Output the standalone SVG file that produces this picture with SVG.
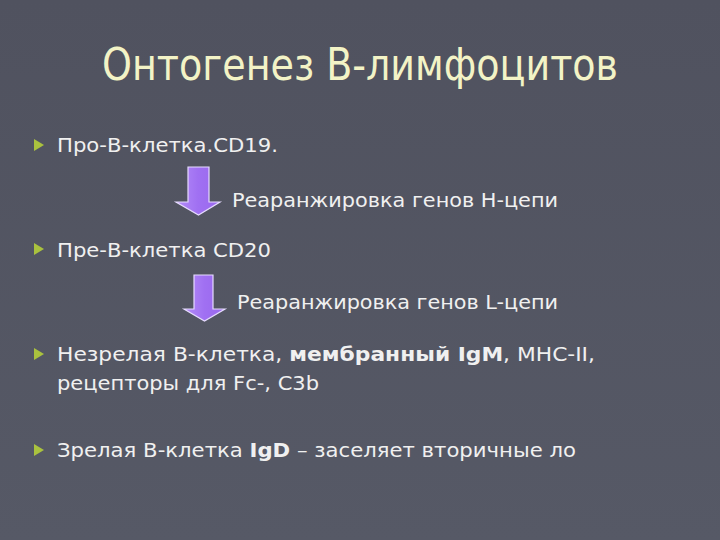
<svg xmlns="http://www.w3.org/2000/svg" width="720" height="540" viewBox="0 0 720 540">
<defs>
<linearGradient id="bg" x1="0" y1="0" x2="0" y2="1">
<stop offset="0" stop-color="#50525f"/>
<stop offset="1" stop-color="#565966"/>
</linearGradient>
<linearGradient id="ar" x1="0" y1="0" x2="1" y2="0">
<stop offset="0" stop-color="#b48cf8"/>
<stop offset="0.5" stop-color="#a070f2"/>
<stop offset="1" stop-color="#9a68ee"/>
</linearGradient>
<path id="bul" d="M0,-6 L10,0 L0,6 Z"/>
</defs>
<style>
.t{font-family:"DejaVu Sans","Liberation Sans",sans-serif;font-size:20px;fill:#f0f0f0}
.ttl{font-family:"DejaVu Sans Condensed","DejaVu Sans","Liberation Sans",sans-serif;font-size:44px;fill:#f3f3c6}
.b{font-weight:bold}
.bul{fill:#aac23e}
.arrow{fill:url(#ar);stroke:#e6dbff;stroke-width:1.2}
</style>
<rect width="720" height="540" fill="url(#bg)"/>
<g id="title"><text class="ttl" x="102" y="80" textLength="516" lengthAdjust="spacingAndGlyphs">Онтогенез В-лимфоцитов</text></g>
<g id="item1"><use href="#bul" class="bul" x="34" y="145"/><text class="t" x="57" y="152" textLength="221" lengthAdjust="spacingAndGlyphs">Про-В-клетка.CD19.</text></g>
<g id="item2"><use href="#bul" class="bul" x="34" y="249"/><text class="t" x="57" y="257" textLength="214" lengthAdjust="spacingAndGlyphs">Пре-В-клетка CD20</text></g>
<g id="item3"><use href="#bul" class="bul" x="34" y="354"/><text class="t" x="57" y="361" textLength="538" lengthAdjust="spacingAndGlyphs">Незрелая В-клетка, <tspan class="b">мембранный IgM</tspan>, МНС-II,</text>
<text class="t" x="57" y="390" textLength="262" lengthAdjust="spacingAndGlyphs">рецепторы для Fc-, C3b</text></g>
<g id="item4"><use href="#bul" class="bul" x="34" y="450"/><text class="t" x="57" y="457" textLength="519" lengthAdjust="spacingAndGlyphs">Зрелая В-клетка <tspan class="b">IgD</tspan> – заселяет вторичные ло</text></g>
<g id="connectors">
<path class="arrow" d="M188,167 H209 V202 H220 L198.5,215 L176,202 H188 Z"/>
<path class="arrow" d="M194,275 H213 V309 H225 L204.5,321 L184,309 H194 Z"/>
</g>
<g id="label1"><text class="t" x="232" y="207" textLength="326" lengthAdjust="spacingAndGlyphs">Реаранжировка генов Н-цепи</text></g>
<g id="label2"><text class="t" x="237" y="309" textLength="321" lengthAdjust="spacingAndGlyphs">Реаранжировка генов L-цепи</text></g>
</svg>
